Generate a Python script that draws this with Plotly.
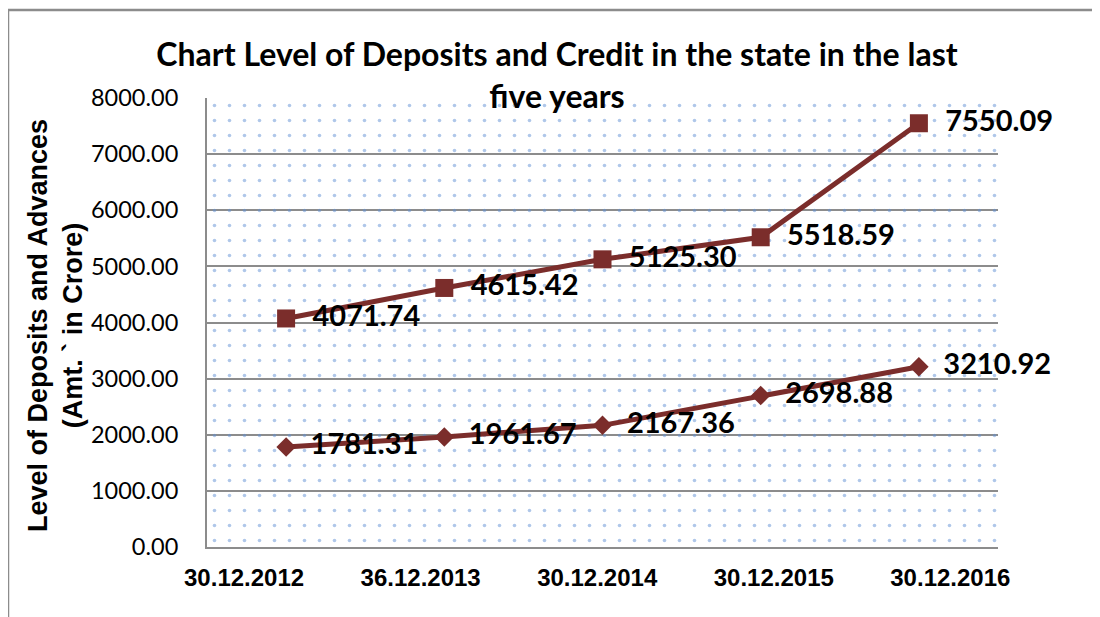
import plotly.graph_objects as go

categories = ["30.12.2012", "36.12.2013", "30.12.2014", "30.12.2015", "30.12.2016"]
deposits = [4071.74, 4615.42, 5125.30, 5518.59, 7550.09]
advances = [1781.31, 1961.67, 2167.36, 2698.88, 3210.92]
y_ticks = [0, 1000, 2000, 3000, 4000, 5000, 6000, 7000, 8000]
y_tick_text = [f"{v:.2f}" for v in y_ticks]

title_text = "Chart Level of Deposits and Credit in the state in the last<br>five years"
y_title_text = "Level of Deposits and Advances<br>(Amt. ` in Crore)"

# the page body has an 8px margin: work in reference pixels and shift
OFF = 8
W, H = 1100 - OFF, 617 - OFF
L, R, T, B = 207 - OFF, 1100 - 998, 98 - OFF, 617 - 547
pw, ph = W - L - R, H - T - B

def px_x(x):
    return (x - OFF - L) / pw

def px_y(y):
    return (H - B - (y - OFF)) / ph

xpos = list(range(len(categories)))
line_color = "#7B2D2B"
grid_color = "#8C8C8C"

fig = go.Figure()

# dotted background of the plot area
x_lo, x_hi = -0.5, len(categories) - 0.5
y_lo, y_hi = y_ticks[0], y_ticks[-1]
fig.add_trace(go.Scatter(
    x=[x_lo, x_hi, x_hi, x_lo, x_lo],
    y=[y_lo, y_lo, y_hi, y_hi, y_lo],
    mode="lines", line=dict(width=0), fill="toself",
    fillcolor="rgba(0,0,0,0)",
    fillpattern=dict(shape=".", size=15, solidity=0.045,
                     fgcolor="#5F8FD3", bgcolor="rgba(0,0,0,0)"),
    hoverinfo="skip", showlegend=False,
))

label_font = dict(family="Lato", size=29, color="black", weight="bold")
pad = "\u00a0\u00a0"

fig.add_trace(go.Scatter(
    x=xpos, y=deposits, mode="lines+markers+text",
    name="Deposits",
    line=dict(color=line_color, width=5),
    marker=dict(symbol="square", size=18, color=line_color),
    text=[pad + f"{v:.2f}" for v in deposits], textposition="middle right",
    textfont=label_font, showlegend=False, cliponaxis=False,
))
fig.add_trace(go.Scatter(
    x=xpos, y=advances, mode="lines+markers+text",
    name="Advances",
    line=dict(color=line_color, width=5),
    marker=dict(symbol="diamond", size=15, color=line_color),
    text=[pad + f"{v:.2f}" for v in advances], textposition="middle right",
    textfont=label_font, showlegend=False, cliponaxis=False,
))
# invisible trace so the category-label axis (spread wider, as in the source) is drawn
fig.add_trace(go.Scatter(x=[], y=[], xaxis="x2", yaxis="y", showlegend=False,
                         hoverinfo="skip"))

frame = dict(color="#8C8C8C", width=2.5)
fig.update_layout(
    width=W, height=H,
    margin=dict(l=L, r=R, t=T, b=B, autoexpand=False),
    paper_bgcolor="white", plot_bgcolor="white",
    title=dict(text=f"<b>{title_text}</b>", x=(557 - OFF) / W, xanchor="center",
               y=1 - 58 / H, yanchor="top", yref="container",
               font=dict(family="Lato", size=32, color="black")),
    xaxis=dict(range=[x_lo, x_hi], tickvals=xpos, showticklabels=False,
               showgrid=False, zeroline=False, showline=True, linecolor=grid_color, linewidth=2,
               ticks=""),
    xaxis2=dict(overlaying="x", anchor="y", side="bottom", range=[-0.21, 4.27],
                tickvals=xpos, ticktext=[f"<b>{c}</b>" for c in categories],
                showgrid=False, zeroline=False, showline=False, ticks="",
                ticklabelstandoff=14,
                tickfont=dict(family="Liberation Sans", size=24, color="black")),
    yaxis=dict(range=[y_lo, y_hi], tickvals=y_ticks, ticktext=y_tick_text,
               showgrid=True, gridcolor=grid_color, gridwidth=2, zeroline=False,
               showline=True, linecolor=grid_color, linewidth=2,
               ticks="", ticklabelstandoff=22,
               tickfont=dict(family="Lato", size=23.5, color="black")),
    annotations=[dict(text=f"<b>{y_title_text}</b>", textangle=-90,
                      xref="paper", yref="paper", x=px_x(55), y=px_y(326),
                      xanchor="center", yanchor="middle", showarrow=False,
                      font=dict(family="Liberation Sans", size=27, color="black"))],
    shapes=[
        dict(type="line", xref="paper", yref="paper", x0=px_x(8), x1=px_x(8),
             y0=px_y(10), y1=px_y(700), line=frame),
        dict(type="line", xref="paper", yref="paper", x0=px_x(8), x1=px_x(1200),
             y0=px_y(10), y1=px_y(10), line=frame),
    ],
)

fig.write_html("out.html")
